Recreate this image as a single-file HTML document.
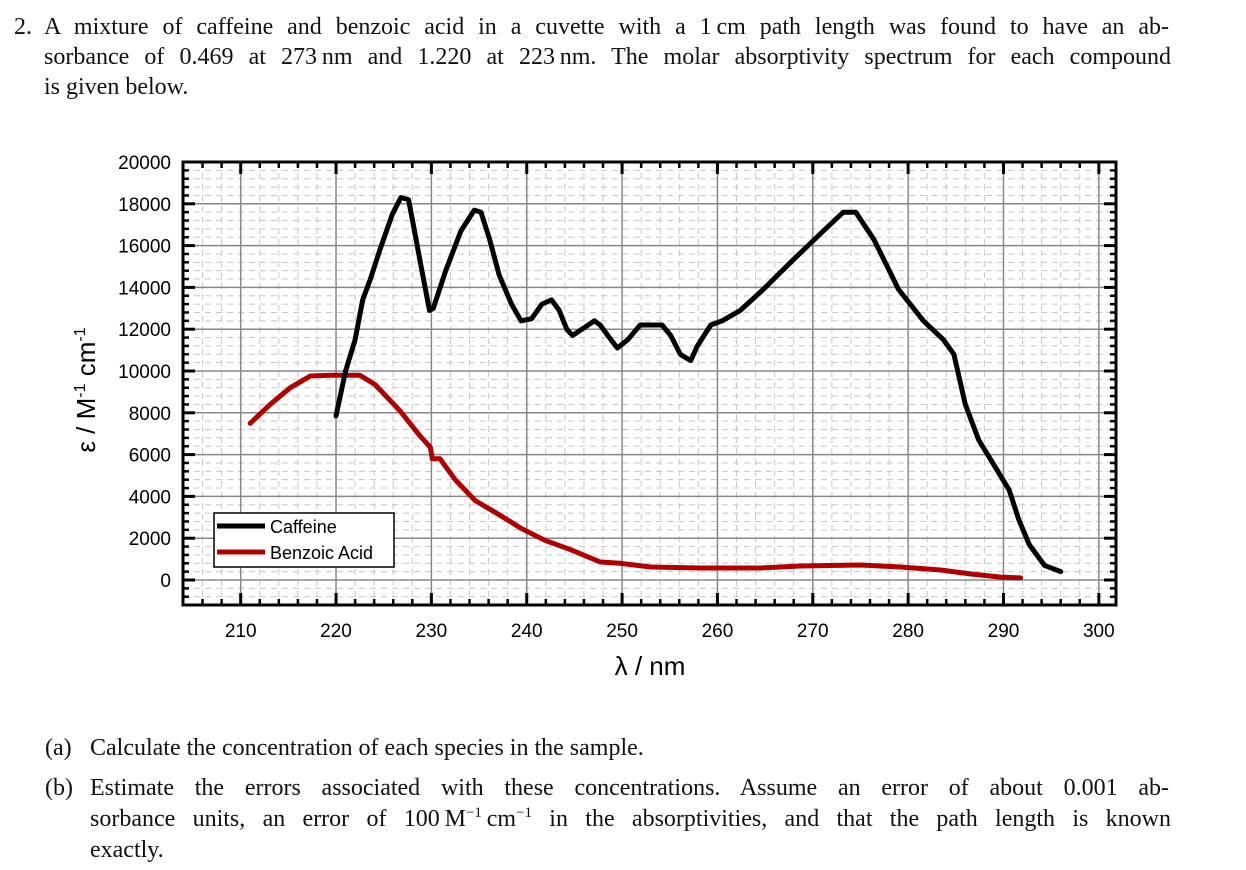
<!DOCTYPE html>
<html><head><meta charset="utf-8">
<style>
body{margin:0;background:#fff;width:1246px;height:870px;overflow:hidden;position:relative;font-family:"Liberation Serif",serif;}
.ln{position:absolute;font-size:24px;line-height:30px;white-space:nowrap;color:#111;}
.j{text-align:justify;text-align-last:justify;}
sup{font-size:15px;line-height:0;vertical-align:9px;}
svg{position:absolute;left:0;top:0;}
</style></head><body>
<div class="ln" style="left:14px;top:12px;">2.</div>
<div class="ln j" style="left:44px;top:12px;width:1125px;">A mixture of caffeine and benzoic acid in a cuvette with a 1&#8201;cm path length was found to have an ab-</div>
<div class="ln j" style="left:44px;top:42px;width:1127px;">sorbance of 0.469 at 273&#8201;nm and 1.220 at 223&#8201;nm. The molar absorptivity spectrum for each compound</div>
<div class="ln" style="left:44px;top:72px;">is given below.</div>

<div class="ln" style="left:45px;top:733px;">(a)</div>
<div class="ln" style="left:90px;top:733px;">Calculate the concentration of each species in the sample.</div>
<div class="ln" style="left:45px;top:773px;">(b)</div>
<div class="ln j" style="left:90px;top:773px;width:1079px;">Estimate the errors associated with these concentrations. Assume an error of about 0.001 ab-</div>
<div class="ln j" style="left:90px;top:804px;width:1081px;">sorbance units, an error of 100&#8201;M<sup>&#8722;1</sup>&#8201;cm<sup>&#8722;1</sup> in the absorptivities, and that the path length is known</div>
<div class="ln" style="left:90px;top:835px;">exactly.</div>

<svg id="chart" width="1246" height="870"></svg>
<script>
const caffeineX=[220,221,222,222.8,223.6,224.6,225.9,226.8,227.6,228.1,229,229.8,230.2,231.5,233.1,234.5,235.2,236.1,237.1,238.4,239.4,240.5,241.6,242.6,243.4,244.2,244.8,245.8,247.1,247.7,248.5,249.5,250.6,251.9,254.2,255.1,256.1,257.2,257.9,259.3,260.5,262.4,264.8,267.9,271.1,273.2,274.5,276.4,279,281.6,283.7,284.8,286,287.4,289,290.6,291.6,292.7,294.3,296];
const caffeineY=[7850,10000,11500,13400,14400,15800,17500,18300,18200,17000,14800,12900,13000,14800,16700,17700,17600,16300,14600,13200,12400,12500,13200,13400,12900,12000,11700,12000,12400,12200,11700,11100,11500,12200,12200,11700,10800,10500,11200,12200,12400,12900,13900,15300,16700,17600,17600,16300,13900,12400,11500,10800,8400,6700,5500,4300,2900,1700,700,400];
const benzoicX=[211,213.1,215.2,217.3,219.4,222.5,224.1,226.7,228.8,229.9,230.1,230.9,232.5,234.6,237.2,239.3,241.9,244.6,247.7,249.8,253,258.2,264.5,268.7,275,279.2,283.4,286.5,289.7,291.8];
const benzoicY=[7500,8400,9200,9760,9800,9800,9350,8100,6900,6350,5800,5800,4800,3800,3100,2500,1900,1450,860,800,620,575,575,670,720,620,480,290,140,100];
const xTicks=[210,220,230,240,250,260,270,280,290,300];
const yTicks=[0,2000,4000,6000,8000,10000,12000,14000,16000,18000,20000];

const L=183,R=1116,T=162,B=605,X0=203.95,X1=301.8,Y0=-1196,Y1=20000;
const sx=v=>L+(v-X0)/(X1-X0)*(R-L);
const sy=v=>B-(v-Y0)/(Y1-Y0)*(B-T);
const svg=document.getElementById('chart');
const NS='http://www.w3.org/2000/svg';
function mk(tag,attrs,parent){const e=document.createElementNS(NS,tag);for(const k in attrs)e.setAttribute(k,attrs[k]);(parent||svg).appendChild(e);return e;}

const grid=mk('g',{});


for(let v=206;v<=301;v+=2){if(v%10===0)continue;const l=mk('line',{x1:sx(v),x2:sx(v),y1:T,y2:B,stroke:'#c8c8c8','stroke-width':1,'stroke-dasharray':'6,5'},grid);}
for(let v=-800;v<=19600;v+=400){if(v%2000===0)continue;const l=mk('line',{x1:L,x2:R,y1:sy(v),y2:sy(v),stroke:'#c8c8c8','stroke-width':1,'stroke-dasharray':'6,5'},grid);}
xTicks.forEach(v=>{const l=mk('line',{x1:sx(v),x2:sx(v),y1:T,y2:B,stroke:'#888','stroke-width':1.5},grid);});
yTicks.forEach(v=>{const l=mk('line',{x1:L,x2:R,y1:sy(v),y2:sy(v),stroke:'#888','stroke-width':1.5},grid);});

const ticks=mk('g',{stroke:'#000'});


for(let v=206;v<=301;v+=2){const maj=v%10===0;const len=maj?12:6;const w=maj?3:2.5;
 mk('line',{x1:sx(v),x2:sx(v),y1:B,y2:B-len,'stroke-width':w},ticks);
 mk('line',{x1:sx(v),x2:sx(v),y1:T,y2:T+len,'stroke-width':w},ticks);}
for(let v=-800;v<=20000;v+=400){const maj=v%2000===0;const len=maj?12:6;const w=maj?3:2.5;
 mk('line',{x1:L,x2:L+len,y1:sy(v),y2:sy(v),'stroke-width':w},ticks);
 mk('line',{x1:R,x2:R-len,y1:sy(v),y2:sy(v),'stroke-width':w},ticks);}

const frame=mk('rect',{x:L,y:T,width:R-L,height:B-T,fill:'none',stroke:'#000','stroke-width':3});



xTicks.forEach(v=>{const t=mk('text',{x:sx(v),y:637,'text-anchor':'middle','font-family':'Liberation Sans, sans-serif','font-size':19,fill:'#000'});t.textContent=v;});
yTicks.forEach(v=>{const t=mk('text',{x:171,y:sy(v)+7,'text-anchor':'end','font-family':'Liberation Sans, sans-serif','font-size':19,fill:'#000'});t.textContent=v;});

const xt=mk('text',{x:650,y:675,'text-anchor':'middle','font-family':'Liberation Sans, DejaVu Sans, sans-serif','font-size':26,fill:'#000'});
xt.textContent='λ / nm';


const yt=mk('text',{x:0,y:0,'text-anchor':'middle','font-family':'Liberation Sans, DejaVu Sans, sans-serif','font-size':26,fill:'#000',transform:'translate(95,390) rotate(-90)'});
yt.innerHTML='ε / M<tspan dy="-10" font-size="16">-1</tspan><tspan dy="10"> cm</tspan><tspan dy="-10" font-size="16">-1</tspan>';



function line(xs,ys,color,name){const d=xs.map((x,i)=>(i?'L':'M')+sx(x).toFixed(1)+','+sy(ys[i]).toFixed(1)).join('');
 const p=mk('path',{d:d,fill:'none',stroke:color,'stroke-width':5,'stroke-linejoin':'round','stroke-linecap':'round'});
 
 }
line(benzoicX,benzoicY,'#b00000','benzoic-acid-line');
line(caffeineX,caffeineY,'#000','caffeine-line');

const lg=mk('g',{});


mk('rect',{x:214,y:513,width:180,height:54,fill:'#fff',stroke:'#000','stroke-width':1.5},lg);
mk('line',{x1:217,x2:265,y1:526,y2:526,stroke:'#000','stroke-width':5},lg);
mk('line',{x1:217,x2:265,y1:552,y2:552,stroke:'#b00000','stroke-width':5},lg);
const l1=mk('text',{x:270,y:533,'font-family':'Liberation Sans, sans-serif','font-size':18},lg);l1.textContent='Caffeine';


const l2=mk('text',{x:270,y:559,'font-family':'Liberation Sans, sans-serif','font-size':18},lg);l2.textContent='Benzoic Acid';


</script>
</body></html>
